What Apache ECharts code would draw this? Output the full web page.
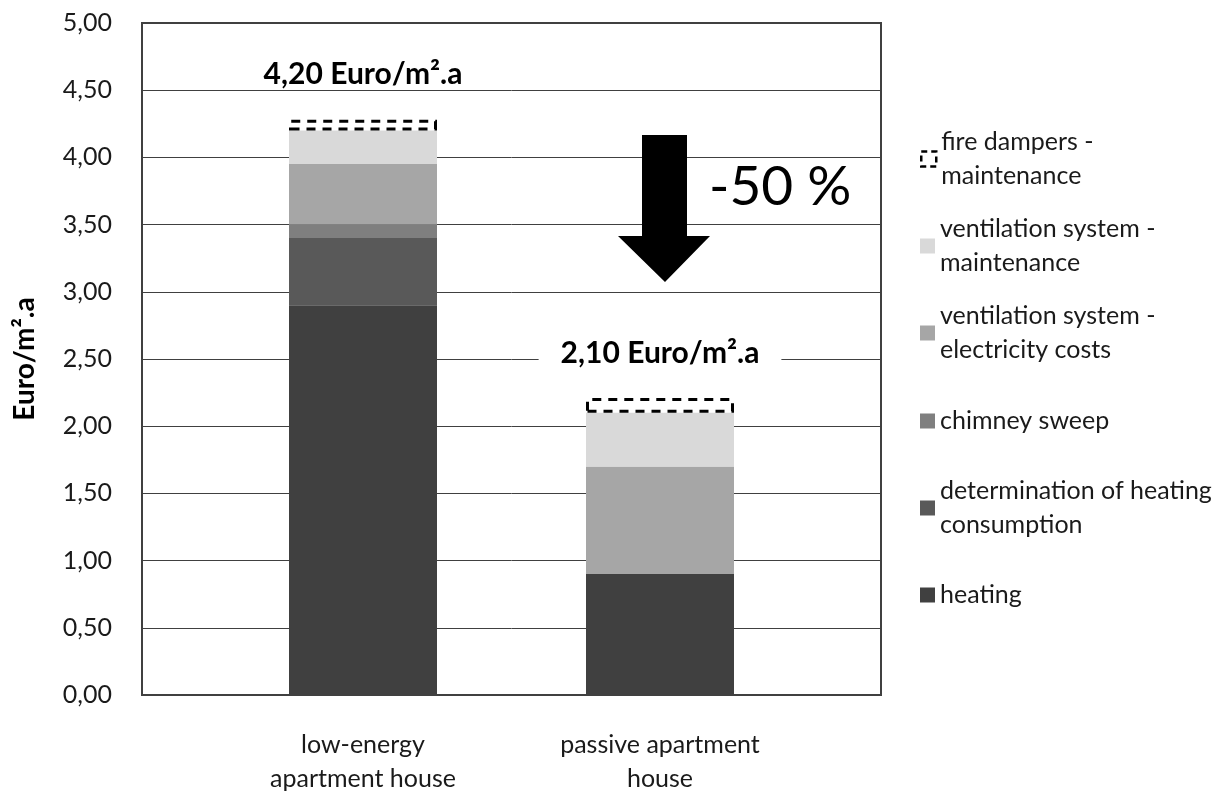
<!DOCTYPE html>
<html>
<head>
<meta charset="utf-8">
<script src="https://cdn.jsdelivr.net/npm/echarts@6/dist/echarts.min.js"></script>
<style>
  html, body { margin: 0; padding: 0; background: #ffffff; }
  #chart { width: 1231px; height: 792px; }
</style>
</head>
<body>
<div id="chart"></div>
<script>
// Annual operating costs per m² of living area (Euro/m².a)
const categories = ['low-energy\napartment house', 'passive apartment\nhouse'];

const heating          = [2.90, 0.90];
const heatingMetering  = [0.50, 0.00];
const chimneySweep     = [0.10, 0.00];
const ventElectricity  = [0.45, 0.80];
const ventMaintenance  = [0.25, 0.40];
const fireDampers      = [0.08, 0.11];

const seriesNames = [
  'heating',
  'determination of heating\nconsumption',
  'chimney sweep',
  'ventilation system -\nelectricity costs',
  'ventilation system -\nmaintenance',
  'fire dampers -\nmaintenance'
];
const seriesColors = ['#404040', '#595959', '#7f7f7f', '#a6a6a6', '#d9d9d9', 'rgba(0,0,0,0)'];

const yMin = 0, yMax = 5, yStep = 0.5;
const reductionText = '-50 %';

// totals shown above the bars (fire damper maintenance drawn separately as a dashed box)
const totals = categories.map((_, i) =>
  heating[i] + heatingMetering[i] + chimneySweep[i] + ventElectricity[i] + ventMaintenance[i]);

const fmt = v => v.toFixed(2).replace('.', ',');
const FONT = 'Lato';
const TEXT = '#1a1a1a';

const stackValues = [heating, heatingMetering, chimneySweep, ventElectricity, ventMaintenance, fireDampers];

const series = stackValues.map((vals, k) => {
  const s = {
    name: seriesNames[k],
    type: 'bar',
    stack: 'total',
    xAxisIndex: 1,
    yAxisIndex: 1,
    barWidth: 148,
    data: vals,
    itemStyle: { color: seriesColors[k] },
    emphasis: { disabled: true }
  };
  if (k === stackValues.length - 1) {
    s.itemStyle = {
      color: 'rgba(0,0,0,0)',
      borderColor: '#000000',
      borderWidth: 3,
      borderType: [9, 7]
    };
    s.label = {
      show: true,
      position: 'top',
      distance: 31,
      formatter: p => fmt(totals[p.dataIndex]) + ' Euro/m².a',
      fontFamily: FONT,
      fontWeight: 'bold',
      fontSize: 30,
      lineHeight: 28,
      color: '#000000',
      backgroundColor: '#ffffff',
      padding: [0, 22]
    };
  }
  return s;
});

// legend, one block per entry, top to bottom
const legendOrder = [5, 4, 3, 2, 1, 0];
const legendCenters = [159, 246, 333, 421, 508, 595];
const legends = legendOrder.map((k, j) => {
  const twoLines = seriesNames[k].indexOf('\n') >= 0;
  const item = { name: seriesNames[k], icon: 'rect' };
  if (k === 5) {
    item.itemStyle = { color: 'rgba(0,0,0,0)', borderColor: '#000', borderWidth: 2.5, borderType: [6, 4] };
  }
  return {
    data: [item],
    orient: 'vertical',
    left: 920,
    top: twoLines ? legendCenters[j] - 51 : legendCenters[j] - 17,
    padding: 0,
    itemWidth: 15,
    itemHeight: 15,
    selectedMode: false,
    textStyle: {
      fontFamily: FONT,
      fontSize: 25,
      lineHeight: 34,
      color: TEXT,
      padding: twoLines ? [34, 0, 0, 0] : 0
    }
  };
});

const chart = echarts.init(document.getElementById('chart'), null, { renderer: 'canvas' });

chart.setOption({
  backgroundColor: '#ffffff',
  animation: false,
  grid: [
    { left: 142, top: 23, width: 739, height: 672, outerBoundsMode: 'none', containLabel: false,
      show: true, borderColor: '#404040', borderWidth: 2, backgroundColor: 'transparent' },
    { left: 214.5, top: 23, width: 594, height: 672, outerBoundsMode: 'none', containLabel: false }
  ],
  xAxis: [
    { gridIndex: 0, type: 'value', min: 0, max: 1, show: false },
    {
      gridIndex: 1,
      type: 'category',
      data: categories,
      axisLine: { show: false },
      axisTick: { show: false },
      axisLabel: { fontFamily: FONT, fontSize: 25, lineHeight: 34, margin: 33, color: TEXT }
    }
  ],
  yAxis: [
    {
      gridIndex: 0,
      type: 'value',
      min: yMin,
      max: yMax,
      interval: yStep,
      name: 'Euro/m².a',
      nameLocation: 'middle',
      nameRotate: 90,
      nameGap: 103,
      nameTextStyle: { fontFamily: FONT, fontWeight: 'bold', fontSize: 28, color: '#000' },
      axisLine: { show: true, lineStyle: { color: '#404040', width: 2 } },
      axisTick: { show: false },
      axisLabel: { formatter: fmt, fontFamily: FONT, fontSize: 25, color: TEXT, margin: 30 },
      splitLine: { show: true, lineStyle: { color: '#404040', width: 1 } }
    },
    { gridIndex: 1, type: 'value', min: yMin, max: yMax, interval: yStep, show: false }
  ],
  legend: legends,
  series: series,
  graphic: [
    {
      type: 'polygon',
      shape: {
        points: [[642, 135], [687, 135], [687, 236], [710, 236], [665, 282], [618, 236], [642, 236]]
      },
      style: { fill: '#000000' },
      z: 20
    },
    {
      type: 'text',
      left: 709,
      top: 160,
      style: {
        text: reductionText,
        fontFamily: FONT,
        fontSize: 55,
        fill: '#000000'
      },
      z: 20
    }
  ]
});
</script>
</body>
</html>
